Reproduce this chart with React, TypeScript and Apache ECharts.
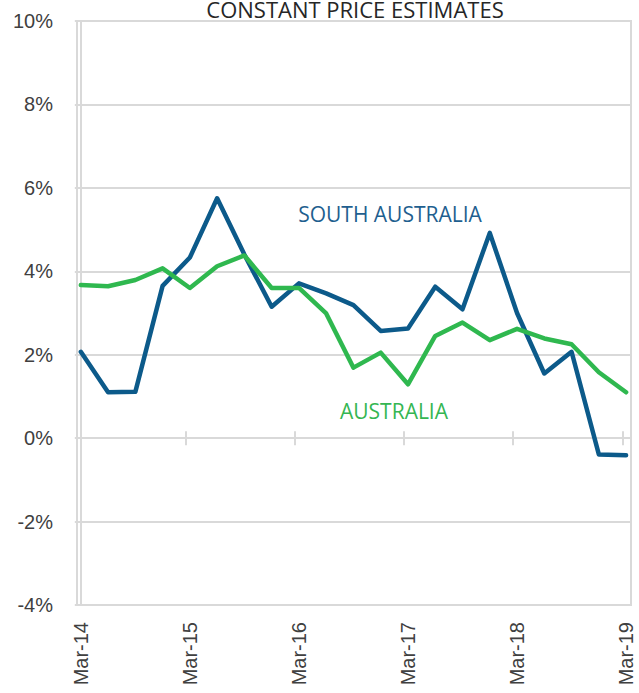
import React, { useEffect, useRef } from "react";
import * as echarts from "echarts";

const quarters = [
  "Mar-14", "Jun-14", "Sep-14", "Dec-14",
  "Mar-15", "Jun-15", "Sep-15", "Dec-15",
  "Mar-16", "Jun-16", "Sep-16", "Dec-16",
  "Mar-17", "Jun-17", "Sep-17", "Dec-17",
  "Mar-18", "Jun-18", "Sep-18", "Dec-18",
  "Mar-19",
];
const labelQuarters = [0, 4, 8, 12, 16, 20];
const southAustralia = [2.07, 1.1, 1.11, 3.65, 4.33, 5.75, 4.4, 3.15, 3.71, 3.47, 3.19, 2.57, 2.63, 3.63, 3.09, 4.92, 3.0, 1.55, 2.07, -0.39, -0.41];
const australia = [3.67, 3.64, 3.79, 4.07, 3.6, 4.12, 4.38, 3.6, 3.6, 2.99, 1.69, 2.05, 1.29, 2.45, 2.77, 2.35, 2.62, 2.39, 2.25, 1.58, 1.1];
const yMin = -4;
const yMax = 10;
const yStep = 2;
const title = "CONSTANT PRICE ESTIMATES";

const BLUE = "#0c5a8a";
const GREEN = "#2fb84f";
const GRID = "#d9d9d9";
const TEXT = "#404040";

export default function App() {
  const ref = useRef<HTMLDivElement>(null);
  useEffect(() => {
    if (!ref.current) return;
    const chart = echarts.init(ref.current, null, { renderer: "svg" });
    const xMin = -0.14;
    const xMax = 20.18;
    const gridPos = { left: 77, right: 8, top: 21, bottom: 88 };
    chart.setOption({
      animation: false,
      grid: [
        { ...gridPos, show: true, borderColor: GRID, borderWidth: 2, containLabel: false },
        { ...gridPos, show: false, containLabel: false },
      ],
      xAxis: [
        {
          gridIndex: 0,
          type: "value",
          min: xMin,
          max: xMax,
          position: "bottom",
          axisLine: { show: false, onZero: false },
          axisTick: { show: false },
          splitLine: { show: false },
          axisLabel: {
            customValues: labelQuarters,
            formatter: (v: number) => quarters[Math.round(v)],
            rotate: 90,
            margin: 17,
            fontSize: 20,
            color: TEXT,
            fontFamily: "Liberation Sans",
          },
        },
        {
          gridIndex: 0,
          type: "value",
          min: xMin,
          max: xMax,
          interval: 4,
          position: "top",
          axisLine: { show: true, onZero: true, lineStyle: { color: GRID, width: 2 } },
          axisTick: { show: true, length: 7, lineStyle: { color: GRID, width: 2 } },
          axisLabel: { show: false },
          splitLine: { show: false },
        },
        {
          gridIndex: 1,
          type: "value",
          min: xMin,
          max: xMax,
          interval: 4,
          position: "bottom",
          axisLine: { show: true, onZero: true, lineStyle: { color: GRID, width: 2 } },
          axisTick: { show: true, length: 7, lineStyle: { color: GRID, width: 2 } },
          axisLabel: { show: false },
          splitLine: { show: false },
        },
      ],
      yAxis: [
        {
          gridIndex: 0,
          type: "value",
          min: yMin,
          max: yMax,
          interval: yStep,
          axisLine: { show: true, lineStyle: { color: GRID, width: 2 } },
          axisTick: { show: true, length: 6, lineStyle: { color: GRID, width: 2 } },
          axisLabel: {
            formatter: "{value}%",
            fontSize: 20,
            color: TEXT,
            margin: 24,
            fontFamily: "Liberation Sans",
          },
          splitLine: { show: true, lineStyle: { color: GRID, width: 2 } },
        },
        {
          gridIndex: 1,
          type: "value",
          min: yMin,
          max: yMax,
          interval: yStep,
          show: false,
        },
      ],
      series: [
        {
          name: "SOUTH AUSTRALIA",
          type: "line",
          xAxisIndex: 0,
          yAxisIndex: 0,
          data: southAustralia.map((v, i) => [i, v]),
          showSymbol: false,
          lineStyle: { color: BLUE, width: 4.5, cap: "round", join: "round" },
          itemStyle: { color: BLUE },
        },
        {
          name: "AUSTRALIA",
          type: "line",
          xAxisIndex: 0,
          yAxisIndex: 0,
          data: australia.map((v, i) => [i, v]),
          showSymbol: false,
          lineStyle: { color: GREEN, width: 4.5, cap: "round", join: "round" },
          itemStyle: { color: GREEN },
        },
      ],
      graphic: [
        {
          type: "text",
          x: 355,
          y: 8.5,
          style: {
            text: title,
            fill: "#262626",
            font: "22px 'Open Sans'",
            textAlign: "center",
            textVerticalAlign: "middle",
          },
        },
        {
          type: "text",
          x: 390,
          y: 214,
          style: {
            text: "SOUTH AUSTRALIA",
            fill: "#1f5f8f",
            font: "21px 'Open Sans'",
            textAlign: "center",
            textVerticalAlign: "middle",
          },
        },
        {
          type: "text",
          x: 394,
          y: 411,
          style: {
            text: "AUSTRALIA",
            fill: "#35b652",
            font: "21px 'Open Sans'",
            textAlign: "center",
            textVerticalAlign: "middle",
          },
        },
      ],
    });
    return () => chart.dispose();
  }, []);
  return (
    <div
      ref={ref}
      style={{ position: "fixed", left: 0, top: 0, width: 639, height: 693, background: "#fff" }}
    />
  );
}
